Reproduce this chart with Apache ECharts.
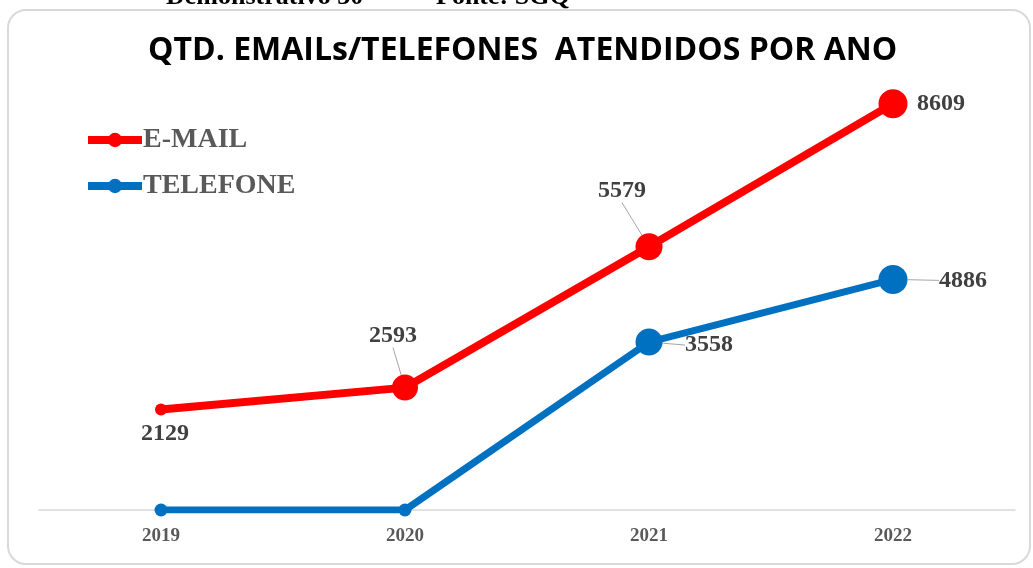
<!DOCTYPE html>
<html>
<head>
<meta charset="utf-8">
<script src="https://cdn.jsdelivr.net/npm/echarts@6/dist/echarts.min.js"></script>
<style>
  html, body { margin: 0; padding: 0; background: #fff; }
  #chart { width: 1033px; height: 568px; }
</style>
</head>
<body>
<div id="chart"></div>
<script>
const years = ['2019', '2020', '2021', '2022']
const emailValues = [2129, 2593, 5579, 8609]
const phoneValues = [0, 0, 3558, 4886]
const emailSizes = [12, 26, 27, 29]
const phoneSizes = [13, 13, 27, 29]

// label shift from the point and whether a leader line is drawn
const emailLabelShift = [[4, 24, false], [-12, -52, true], [-27, -56, true], [48, 0, false]]
const phoneLabelShift = [null, null, [60, 3, true], [70, 1, true]]

const serif = '"Liberation Serif", "DejaVu Serif", serif'
const labelColor = '#404040'
const red = '#ff0000'
const blue = '#0070c0'

function buildData(values, sizes, shifts) {
  return values.map((v, i) => {
    const s = shifts[i]
    return {
      value: v,
      symbolSize: sizes[i],
      label: { show: !!s },
      labelLine: { show: !!(s && s[2]) }
    }
  })
}

function layoutFor(shifts) {
  return (p) => {
    const s = shifts[p.dataIndex]
    if (!s) return {}
    return { dx: s[0], dy: s[1] }
  }
}

const seriesLabel = {
  position: 'inside',
  color: labelColor,
  fontFamily: serif,
  fontWeight: 'bold',
  fontSize: 24
}

const seriesLabelLine = {
  lineStyle: { color: '#a6a6a6', width: 1 }
}

const chart = echarts.init(document.getElementById('chart'), null, { renderer: 'canvas' })

chart.setOption({
  backgroundColor: '#fff',
  animation: false,
  graphic: [
    {
      type: 'rect',
      shape: { x: 8, y: 10, width: 1022, height: 554, r: 18 },
      style: { fill: 'none', stroke: '#d9d9d9', lineWidth: 2 },
      z: -10
    },
    {
      type: 'text',
      x: 166, y: 10,
      style: {
        text: 'Demonstrativo 30',
        font: 'bold 26px "Liberation Serif", serif',
        fill: '#000',
        verticalAlign: 'bottom'
      }
    },
    {
      type: 'text',
      x: 436, y: 10,
      style: {
        text: 'Fonte: SGQ',
        font: 'bold 26px "Liberation Serif", serif',
        fill: '#000',
        verticalAlign: 'bottom'
      }
    }
  ],
  title: {
    text: 'QTD. EMAILs/TELEFONES  ATENDIDOS POR ANO',
    left: 143,
    top: 30,
    textStyle: {
      fontFamily: '"Open Sans", sans-serif',
      fontWeight: 'bold',
      fontSize: 32,
      color: '#000'
    }
  },
  legend: {
    orient: 'vertical',
    left: 79,
    top: 121,
    itemWidth: 54,
    itemHeight: 18,
    itemGap: 18,
    textStyle: {
      fontFamily: serif,
      fontWeight: 'bold',
      fontSize: 28,
      color: '#595959',
      padding: [0, 0, 0, -4]
    },
    data: [
      { name: 'E-MAIL', itemStyle: { color: red }, lineStyle: { color: red, width: 8 } },
      { name: 'TELEFONE', itemStyle: { color: blue }, lineStyle: { color: blue, width: 8 } }
    ]
  },
  grid: { left: 39, right: 18, top: 38, bottom: 58, containLabel: false },
  xAxis: {
    type: 'category',
    data: years,
    boundaryGap: true,
    axisLine: { lineStyle: { color: '#d9d9d9', width: 1.5 } },
    axisTick: { show: false },
    axisLabel: {
      margin: 17,
      fontFamily: serif,
      fontWeight: 'bold',
      fontSize: 19,
      color: '#595959'
    }
  },
  yAxis: {
    type: 'value',
    min: 0,
    max: 10000,
    show: false,
    splitLine: { show: false }
  },
  series: [
    {
      name: 'E-MAIL',
      type: 'line',
      data: buildData(emailValues, emailSizes, emailLabelShift),
      symbol: 'circle',
      lineStyle: { color: red, width: 8 },
      itemStyle: { color: red },
      label: seriesLabel,
      labelLine: seriesLabelLine,
      labelLayout: layoutFor(emailLabelShift),
      z: 3
    },
    {
      name: 'TELEFONE',
      type: 'line',
      data: buildData(phoneValues, phoneSizes, phoneLabelShift),
      symbol: 'circle',
      lineStyle: { color: blue, width: 7 },
      itemStyle: { color: blue },
      label: seriesLabel,
      labelLine: seriesLabelLine,
      labelLayout: layoutFor(phoneLabelShift),
      z: 2
    }
  ]
})
</script>
</body>
</html>
